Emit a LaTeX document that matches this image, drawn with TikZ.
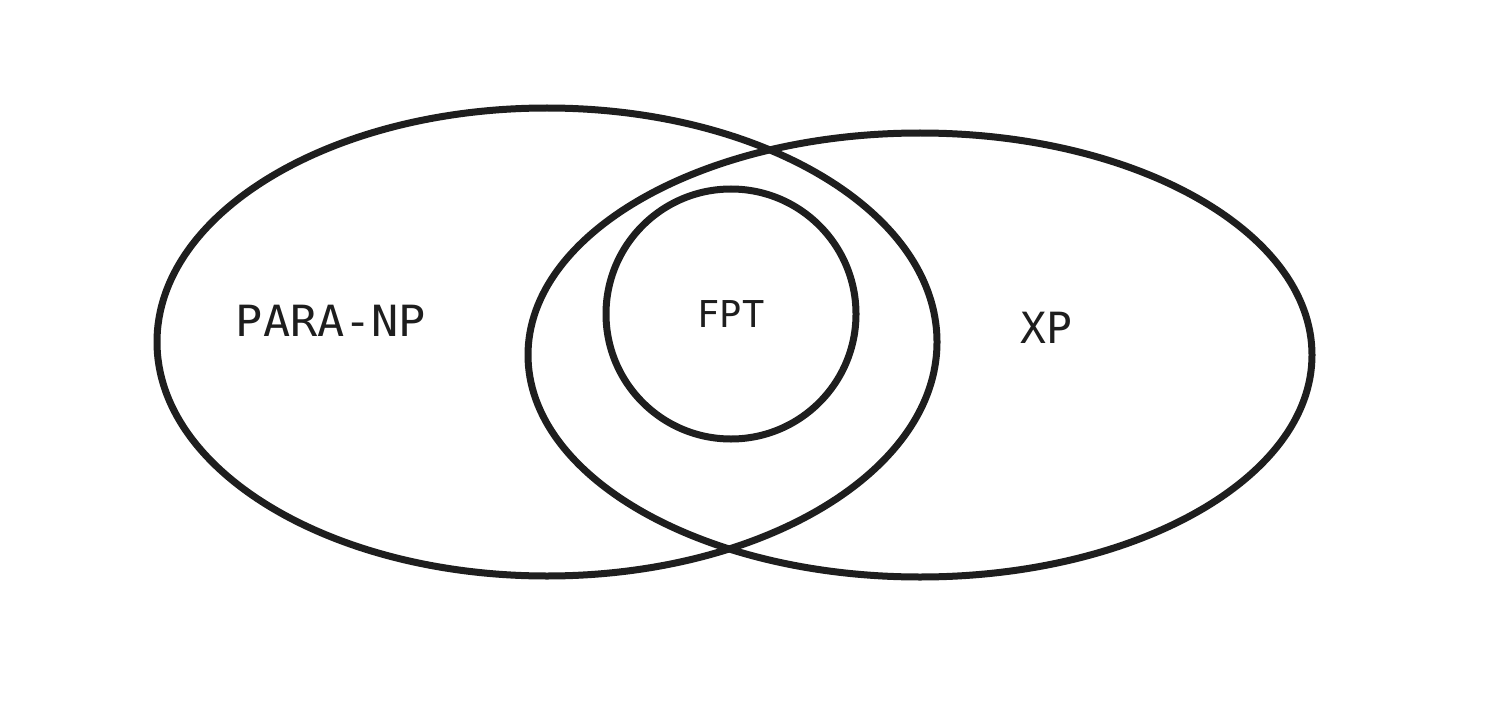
\documentclass[tikz,border=0pt]{standalone}
\usepackage{fontspec}
\newfontfamily\labelfont{DejaVu Sans Mono}
\definecolor{ink}{HTML}{1E1E1E}
\tikzset{
  setshape/.style={draw=ink, line width=7pt},
  biglabel/.style={text=ink, font=\labelfont\fontsize{43}{43}\selectfont, inner sep=0pt, anchor=center},
  smalllabel/.style={text=ink, font=\labelfont\fontsize{37}{37}\selectfont, inner sep=0pt, anchor=center}
}
\begin{document}
\begin{tikzpicture}[x=1pt,y=-1pt]
  \useasboundingbox (0,0) rectangle (1490,722);
  \fill[white] (0,0) rectangle (1490,722);
  \draw[setshape] (547,342) ellipse [x radius=390, y radius=234];
  \draw[setshape] (920,355) ellipse [x radius=392, y radius=222];
  \draw[setshape] (731,314) circle [radius=125];
  \node[biglabel, xscale=1.05] (paranp) at (331,321) {PARA-NP};
  \node[smalllabel] (fpt) at (731,314) {FPT};
  \node[biglabel] (xp) at (1046,328) {XP};
\end{tikzpicture}
\end{document}
